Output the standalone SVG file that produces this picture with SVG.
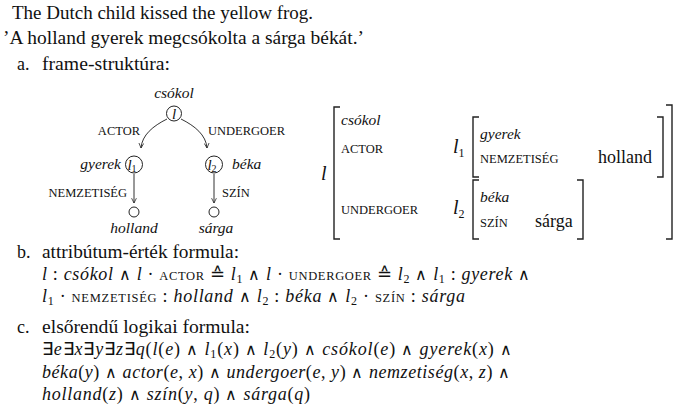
<svg xmlns="http://www.w3.org/2000/svg" width="699" height="416" viewBox="0 0 699 416" font-family="'Liberation Serif', 'Times New Roman', serif">
<defs>
<marker id="ah" viewBox="0 0 10 10" refX="9" refY="5" markerWidth="6" markerHeight="6" orient="auto-start-reverse" markerUnits="userSpaceOnUse">
<path d="M1,1 L9,5 L1,9" fill="none" stroke="#222" stroke-width="1.3"/>
</marker>
<style>
text{font-family:'Liberation Serif','Times New Roman',serif;fill:#111}
.t{font-size:18px}
.it{font-style:italic}
.sc{font-size:12.5px;font-style:normal}
.lab{font-size:15.5px;font-style:italic}
.node{fill:#fff;stroke:#222;stroke-width:1}
.br{fill:none;stroke:#222;stroke-width:1.4}
.cn{fill:none;stroke:#333;stroke-width:1}
.sub{font-size:12px;font-style:normal}
.a{font-family:'DejaVu Sans',sans-serif;font-weight:200;font-size:16px}
</style>
</defs>
<rect width="699" height="416" fill="#fff"/>

<g id="heading">
<text class="t" x="12" y="19" textLength="301" lengthAdjust="spacingAndGlyphs">The Dutch child kissed the yellow frog.</text>
<text class="t" x="3" y="44" textLength="361" lengthAdjust="spacingAndGlyphs">’A holland gyerek megcsókolta a sárga békát.’</text>
<text class="t" x="17" y="70">a.</text>
<text class="t" x="42" y="70" textLength="128" lengthAdjust="spacingAndGlyphs">frame-struktúra:</text>
</g>

<g id="connectors">
<path class="cn" d="M167,119 C153,126 142,135 141,148" marker-end="url(#ah)"/>
<path class="cn" d="M181,119 C195,126 206,135 207,148" marker-end="url(#ah)"/>
<path class="cn" d="M134,174 L134,203" marker-end="url(#ah)"/>
<path class="cn" d="M214,174 L214,203" marker-end="url(#ah)"/>
<text class="sc" x="140" y="135" text-anchor="end">ACTOR</text>
<text class="sc" x="208" y="135">UNDERGOER</text>
<text class="sc" x="127" y="197" text-anchor="end">NEMZETISÉG</text>
<text class="sc" x="222" y="197">SZÍN</text>
</g>

<g id="node-l">
<text class="lab" x="174" y="98" text-anchor="middle">csókol</text>
<circle class="node" cx="174" cy="113.5" r="7.5"/>
<text class="it" x="174" y="118.5" font-size="15" text-anchor="middle">l</text>
</g>
<g id="node-l1">
<text class="lab" x="121" y="169" text-anchor="end">gyerek</text>
<circle class="node" cx="134" cy="164.5" r="8.5"/>
<text x="132" y="169.5" font-size="15" class="it" text-anchor="middle">l<tspan font-size="10" font-style="normal" dy="2">1</tspan></text>
</g>
<g id="node-l2">
<text class="lab" x="232" y="169">béka</text>
<circle class="node" cx="214" cy="164.5" r="8.5"/>
<text x="212" y="169.5" font-size="15" class="it" text-anchor="middle">l<tspan font-size="10" font-style="normal" dy="2">2</tspan></text>
</g>
<g id="node-holland">
<circle class="node" cx="134" cy="212" r="5"/>
<text class="lab" x="134" y="233" text-anchor="middle">holland</text>
</g>
<g id="node-sarga">
<circle class="node" cx="214" cy="212" r="5"/>
<text class="lab" x="216" y="233" text-anchor="middle">sárga</text>
</g>

<g id="avm">
<text class="it" x="321" y="180" font-size="20">l</text>
<path class="br" d="M340,107 H334 V239 H340"/>
<path class="br" d="M666,105 H672 V239 H666"/>
<text class="lab" x="341" y="125" font-size="16.5">csókol</text>
<text class="sc" x="341" y="153">ACTOR</text>
<text class="sc" x="341" y="214">UNDERGOER</text>
<text class="it" x="453" y="153" font-size="20">l<tspan class="sub" font-size="14" dy="4">1</tspan></text>
<path class="br" d="M479,117 H473 V177 H479"/>
<path class="br" d="M657,117 H663 V177 H657"/>
<text class="lab" x="480" y="139" font-size="16.5">gyerek</text>
<text class="sc" x="480" y="163">NEMZETISÉG</text>
<text class="t" x="598" y="163" font-size="19.5">holland</text>
<text class="it" x="453" y="214" font-size="20">l<tspan class="sub" font-size="14" dy="4">2</tspan></text>
<path class="br" d="M479,180 H473 V239 H479"/>
<path class="br" d="M577,180 H583 V239 H577"/>
<text class="lab" x="480" y="202" font-size="16.5">béka</text>
<text class="sc" x="480" y="227">SZÍN</text>
<text class="t" x="535" y="227" font-size="19.5">sárga</text>
</g>

<g id="formula-b">
<text class="t" x="17" y="258">b.</text>
<text class="t" x="42" y="258" textLength="197" lengthAdjust="spacingAndGlyphs">attribútum-érték formula:</text>
<text class="t" x="42" y="280" textLength="488" lengthAdjust="spacing"><tspan class="it">l</tspan> : <tspan class="it">csókol</tspan> <tspan class="a">∧</tspan> <tspan class="it">l</tspan> · <tspan class="sc">ACTOR</tspan> ≙ <tspan class="it">l</tspan><tspan class="sub" dy="3">1</tspan><tspan dy="-3"> </tspan><tspan class="a">∧</tspan> <tspan class="it">l</tspan> · <tspan class="sc">UNDERGOER</tspan> ≙ <tspan class="it">l</tspan><tspan class="sub" dy="3">2</tspan><tspan dy="-3"> </tspan><tspan class="a">∧</tspan> <tspan class="it">l</tspan><tspan class="sub" dy="3">1</tspan><tspan dy="-3"> : </tspan><tspan class="it">gyerek</tspan> <tspan class="a">∧</tspan></text>
<text class="t" x="42" y="302" textLength="423" lengthAdjust="spacing"><tspan class="it">l</tspan><tspan class="sub" dy="3">1</tspan><tspan dy="-3"> · </tspan><tspan class="sc">NEMZETISÉG</tspan> : <tspan class="it">holland</tspan> <tspan class="a">∧</tspan> <tspan class="it">l</tspan><tspan class="sub" dy="3">2</tspan><tspan dy="-3"> : </tspan><tspan class="it">béka</tspan> <tspan class="a">∧</tspan> <tspan class="it">l</tspan><tspan class="sub" dy="3">2</tspan><tspan dy="-3"> · </tspan><tspan class="sc">SZÍN</tspan> : <tspan class="it">sárga</tspan></text>
</g>

<g id="formula-c">
<text class="t" x="17" y="333">c.</text>
<text class="t" x="42" y="333" textLength="208" lengthAdjust="spacingAndGlyphs">elsőrendű logikai formula:</text>
<text class="t" x="42" y="355" textLength="470" lengthAdjust="spacing">∃<tspan class="it">e</tspan>∃<tspan class="it">x</tspan>∃<tspan class="it">y</tspan>∃<tspan class="it">z</tspan>∃<tspan class="it">q</tspan>(<tspan class="it">l</tspan>(<tspan class="it">e</tspan>) <tspan class="a">∧</tspan> <tspan class="it">l</tspan><tspan class="sub" dy="3">1</tspan><tspan dy="-3">(</tspan><tspan class="it">x</tspan>) <tspan class="a">∧</tspan> <tspan class="it">l</tspan><tspan class="sub" dy="3">2</tspan><tspan dy="-3">(</tspan><tspan class="it">y</tspan>) <tspan class="a">∧</tspan> <tspan class="it">csókol</tspan>(<tspan class="it">e</tspan>) <tspan class="a">∧</tspan> <tspan class="it">gyerek</tspan>(<tspan class="it">x</tspan>) <tspan class="a">∧</tspan></text>
<text class="t" x="42" y="378" textLength="468" lengthAdjust="spacing"><tspan class="it">béka</tspan>(<tspan class="it">y</tspan>) <tspan class="a">∧</tspan> <tspan class="it">actor</tspan>(<tspan class="it">e</tspan>, <tspan class="it">x</tspan>) <tspan class="a">∧</tspan> <tspan class="it">undergoer</tspan>(<tspan class="it">e</tspan>, <tspan class="it">y</tspan>) <tspan class="a">∧</tspan> <tspan class="it">nemzetiség</tspan>(<tspan class="it">x</tspan>, <tspan class="it">z</tspan>) <tspan class="a">∧</tspan></text>
<text class="t" x="42" y="400" textLength="268" lengthAdjust="spacing"><tspan class="it">holland</tspan>(<tspan class="it">z</tspan>) <tspan class="a">∧</tspan> <tspan class="it">szín</tspan>(<tspan class="it">y</tspan>, <tspan class="it">q</tspan>) <tspan class="a">∧</tspan>  <tspan class="it">sárga</tspan>(<tspan class="it">q</tspan>)</text>
</g>
</svg>
